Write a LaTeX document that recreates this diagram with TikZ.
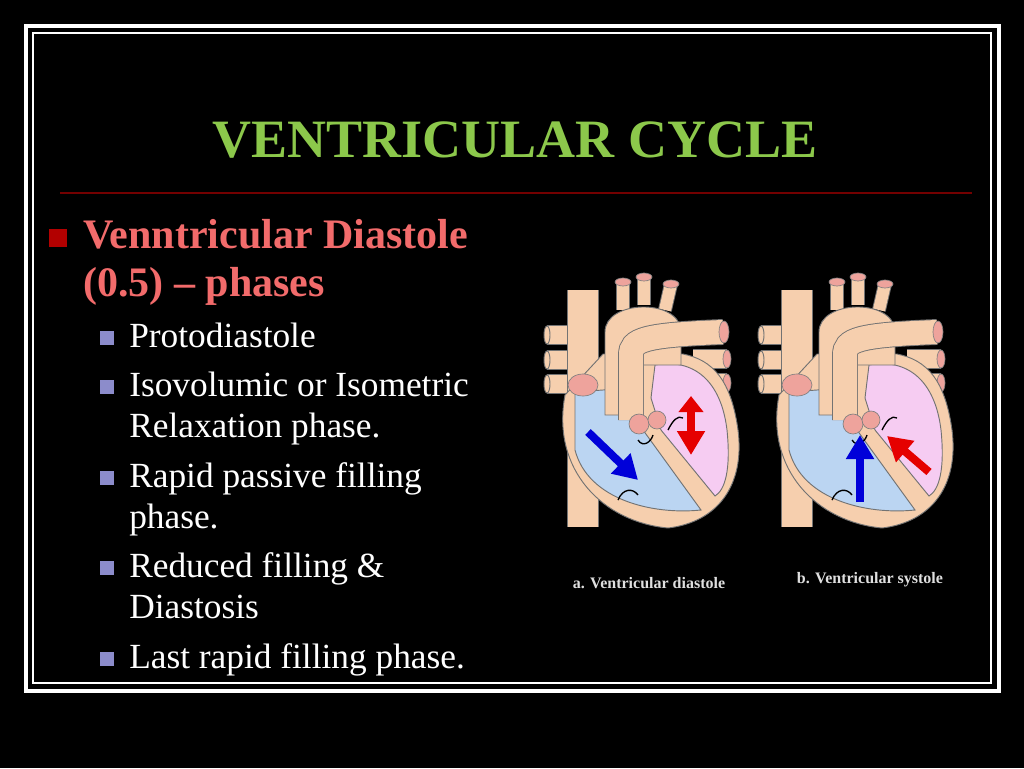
\documentclass[tikz,border=0pt]{standalone}
\usepackage{fontspec}
\setmainfont{Liberation Serif}
\usetikzlibrary{arrows.meta}
\definecolor{peach}{HTML}{F6CFAE}
\definecolor{rablue}{HTML}{BBD5F2}
\definecolor{lvpink}{HTML}{F6CCF2}
\definecolor{cap}{HTML}{EEA39C}
\definecolor{ttl}{HTML}{8CC84B}
\definecolor{sal}{HTML}{F26B6B}
\definecolor{lav}{HTML}{8C8CCB}
\tikzset{
  tube/.style={draw=black!55,line width=0.7pt,double=peach,double distance=#1},
  wall/.style={draw=black!55,line width=0.7pt},
  capc/.style={fill=cap,draw=black!50,line width=0.5pt},
  arr/.style={line width=6pt,-{Triangle[length=18pt,width=20pt]}},
  lvone/.style={anchor=base west,inner sep=0pt,text=sal,font=\fontsize{31.5}{33}\selectfont\bfseries},
  lvtwo/.style={anchor=base west,inner sep=0pt,text=white,font=\fontsize{26.5}{28}\selectfont},
  sq/.style={fill=lav,minimum size=10pt,inner sep=0pt},
  capt/.style={text=gray!25,font=\fontsize{12}{13}\selectfont\bfseries},
  heart/.pic={
    \foreach \y in {65,90,114}{\draw[tube=13pt] (4,\y) -- (40,\y);
      \filldraw[wall,fill=peach] (4,\y) ellipse (3 and 9);}
    \foreach \y in {89,113}{\draw[tube=13pt] (150,\y) -- (184,\y);
      \filldraw[capc] (184,\y) ellipse (4 and 9);}
    \draw[tube=23pt] (40,20) -- (40,257);
    \filldraw[wall,fill=peach] (22,125) .. controls (8,200) and (60,252) .. (125,258)
      .. controls (175,252) and (202,215) .. (195,160) .. controls (188,110) and (170,90) .. (140,84) -- (60,84) -- cycle;
    \filldraw[wall,fill=rablue] (32,122) -- (88,118) -- (100,160) -- (158,240)
      .. controls (110,245) and (45,230) .. (32,180) -- cycle;
    \filldraw[wall,fill=lvpink] (112,95) .. controls (150,88) and (178,110) .. (184,160)
      .. controls (188,200) and (182,220) .. (172,226) -- (118,160) -- (108,128) -- cycle;
    \filldraw[capc] (40,115) ellipse (15 and 11);
    \draw[tube=9pt] (80,40) -- (80,12); \filldraw[capc] (80,12) ellipse (8 and 4);
    \draw[tube=9pt] (101,35) -- (101,7); \filldraw[capc] (101,7) ellipse (8 and 4);
    \draw[tube=9pt] (122,40) -- (128,14); \filldraw[capc] (128,14) ellipse (8 and 4);
    \filldraw[wall,fill=peach] (62,145) -- (62,62) .. controls (62,30) and (135,28) .. (138,60)
      -- (138,95) -- (100,95) -- (100,145) -- cycle;
    \draw[tube=18pt] (88,150) -- (88,85) .. controls (88,70) and (100,65) .. (180,62);
    \filldraw[capc] (181,62) ellipse (5 and 11);
    \filldraw[capc] (96,154) circle (10);
    \filldraw[capc] (114,150) circle (9);
    \draw[black,line width=1pt] (95,170) .. controls (100,178) and (108,172) .. (110,165);
    \draw[black,line width=1pt] (125,160) .. controls (130,150) and (135,145) .. (140,148);
    \draw[black,line width=1pt] (75,230) .. controls (80,218) and (90,218) .. (95,225);
  }}
\begin{document}
\begin{tikzpicture}[x=0.75pt,y=-0.75pt]
\useasboundingbox (0,0) rectangle (1024,768);
\fill[black] (0,0) rectangle (1024,768);
\draw[white,line width=3pt] (26,26) rectangle (999,691);
\draw[white,line width=1pt] (33,33) rectangle (991,683);
\node[text=ttl,font=\fontsize{40.5}{42}\selectfont\bfseries] (title) at (515,140) {VENTRICULAR CYCLE};
\draw[red!45!black,line width=1pt] (60,193) -- (972,193);
\node[fill=red!70!black,minimum size=14pt,inner sep=0pt] (b0) at (58,238) {};
\node[lvone] (l1) at (83,248) {Venntricular Diastole};
\node[lvone] (l2) at (83,296) {(0.5) -- phases};
\foreach \y/\t [count=\i] in {347/Protodiastole,396/Isovolumic or Isometric,487/Rapid passive filling,577/Reduced filling \&,668/Last rapid filling phase.}{
  \node[sq] (s\i) at (107,\y-9) {};
  \node[lvtwo] (t\i) at (129,\y) {\t};}
\node[lvtwo] (u1) at (129,437) {Relaxation phase.};
\node[lvtwo] (u2) at (129,528) {phase.};
\node[lvtwo] (u3) at (129,618) {Diastosis};
\pic (ha) at (543,270) {heart};
\pic (hb) at (757,270) {heart};
\begin{scope}[shift={(543,270)}]
\draw[arr,blue!85!black] (45,162) -- (95,210);
\draw[arr,red!90!black] (148,132) -- (148,185);
\draw[arr,red!90!black,-{Triangle[length=12pt,width=18pt]}] (148,150) -- (148,126);
\end{scope}
\begin{scope}[shift={(757,270)}]
\draw[arr,blue!85!black] (103,232) -- (103,165);
\draw[arr,red!90!black] (172,202) -- (130,166);
\end{scope}
\node[capt] (ca) at (649,583) {a. Ventricular diastole};
\node[capt] (cb) at (870,580) {b. Ventricular systole};
\end{tikzpicture}
\end{document}
